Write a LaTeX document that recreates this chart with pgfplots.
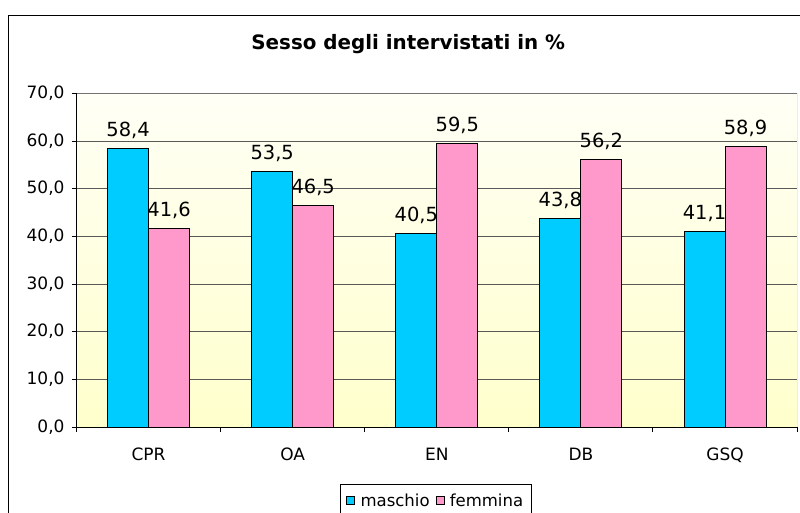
\documentclass[border=0pt]{standalone}
\usepackage{pgfplots}
\pgfplotsset{compat=1.18}
\usepackage{fontspec}
\setmainfont{DejaVu Sans}
\definecolor{maschio}{HTML}{00CCFF}
\definecolor{femmina}{HTML}{FF99CC}
\definecolor{bgtop}{HTML}{FFFFF6}
\definecolor{bgbot}{HTML}{FFFFCC}
\begin{document}
\begin{tikzpicture}
\draw[line width=1.1pt] (6.4pt,372.4pt) rectangle (640pt,-40pt);
\node[anchor=base,inner sep=0pt,font=\bfseries\fontsize{14.9}{16}\selectfont] at (306.2pt,347.25pt) {Sesso degli intervistati in \%};
\begin{axis}[
 at={(57.4pt,63.75pt)}, anchor=south west,
 scale only axis, width=540.4pt, height=250.25pt,
 ybar=0pt, bar width=30.75pt,
 xmin=-0.5, xmax=4.5, ymin=0, ymax=70,
 xtick={0,1,2,3,4}, xticklabels={CPR,OA,EN,DB,GSQ},
 minor xtick={-0.5,0.5,1.5,2.5,3.5,4.5},
 ytick={0,10,...,70},
 axis x line*=bottom, axis y line*=left,
 axis line style={black, line width=0.75pt},
 tick align=outside,
 major tick length=3.75pt, minor tick length=3.75pt,
 major x tick style={draw=none},
 minor x tick style={black,line width=0.75pt},
 major y tick style={black,line width=0.75pt},
 ymajorgrids, grid style={black!65, line width=0.75pt},
 /pgf/number format/assume math mode=true,
 yticklabel style={font=\fontsize{12.75}{14}\selectfont, xshift=-1.75pt, /pgf/number format/.cd, fixed, fixed zerofill, precision=1, use comma},
 xticklabel style={font=\fontsize{12.75}{14}\selectfont, yshift=-8.5pt},
 axis background/.style={top color=bgtop, bottom color=bgbot},
 nodes near coords={\pgfmathprintnumber[fixed,fixed zerofill,precision=1,use comma,assume math mode=true]{\pgfplotspointmeta}},
 every node near coord/.append style={font=\fontsize{14.6}{16}\selectfont, anchor=base, inner sep=0pt, yshift=9pt, text=black},
 legend columns=2,
 legend style={at={(axis description cs:0.3655,-0.1708)}, anchor=north west, draw=black, line width=0.75pt,
   font=\fontsize{12.4}{14}\selectfont, inner xsep=4.5pt, inner ysep=5pt,
   /tikz/every odd column/.append style={column sep=2pt},
   /tikz/every even column/.append style={column sep=2.5pt}},
 legend image code/.code={\draw[#1, draw=black, line width=0.6pt] (0pt,-2.5pt) rectangle (6pt,3.5pt);},
]
\addplot[fill=maschio, draw=black, line width=0.75pt] coordinates {(0,58.4) (1,53.5) (2,40.5) (3,43.8) (4,41.1)};
\addplot[fill=femmina, draw=black, line width=0.75pt] coordinates {(0,41.6) (1,46.5) (2,59.5) (3,56.2) (4,58.9)};
\legend{maschio,femmina}
\draw[black!55, line width=0.75pt] (rel axis cs:0,1) -- (rel axis cs:1,1) -- (rel axis cs:1,0);
\end{axis}
\pgfresetboundingbox
\useasboundingbox (0,0) rectangle (600pt,384pt);
\end{tikzpicture}
\end{document}
